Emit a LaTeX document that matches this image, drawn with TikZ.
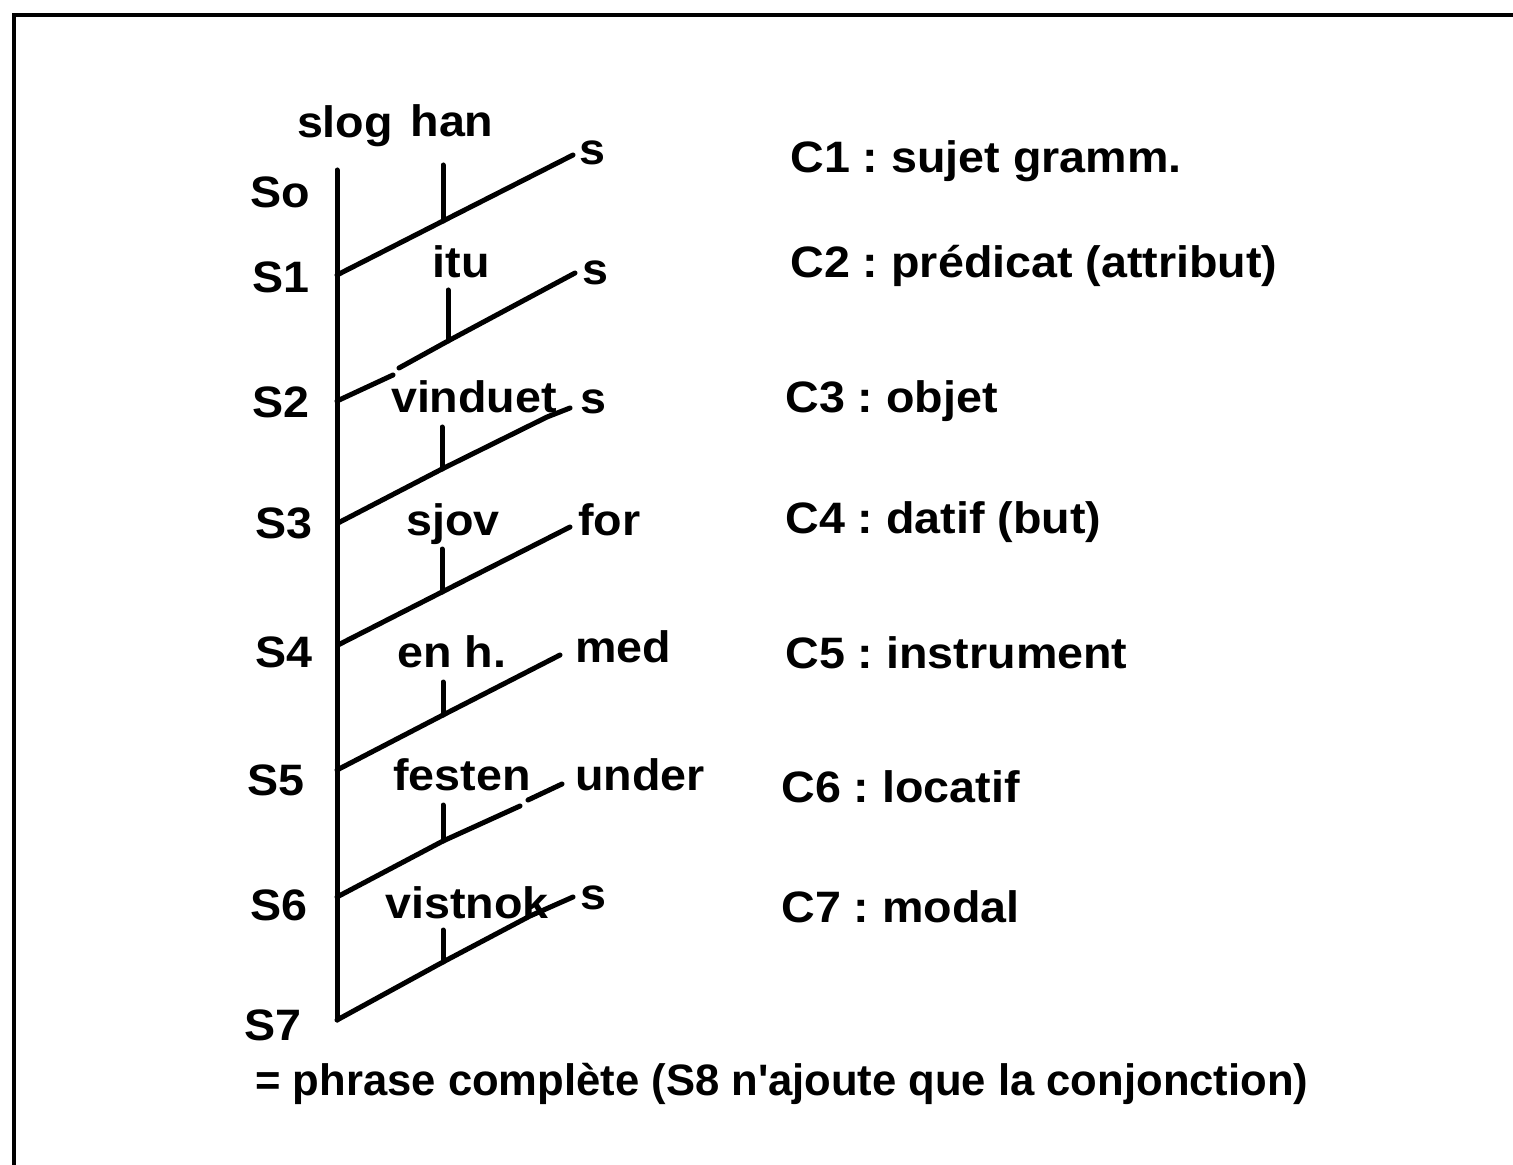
\documentclass[tikz,border=0pt]{standalone}
\usepackage{fontspec}
\setmainfont{Liberation Sans}[FakeStretch=1.06]
\begin{document}
\frenchspacing
\begin{tikzpicture}[x=0.5pt,y=-0.5pt,
  txt/.style={font=\fontsize{22}{26}\selectfont\bfseries, inner sep=0pt, anchor=base west},
  ctxt/.style={txt, anchor=base},
  stxt/.style={txt, anchor=base east},
  branch/.style={line width=2.5pt, line join=round, line cap=round},
  frame/.style={line width=2pt}]
\useasboundingbox (0,0) rectangle (1513,1165);

% outer frame (top and left edges)
\coordinate (fbl) at (14,1165);
\coordinate (ftl) at (14,15);
\coordinate (ftr) at (1513,15);
\draw[frame] (fbl) -- (ftl) -- (ftr);

% spine and junctions
\coordinate (top) at (337,170);
\coordinate (j1) at (337,275);
\coordinate (j2) at (337,401);
\coordinate (j3) at (338,523);
\coordinate (j4) at (338,645);
\coordinate (j5) at (337,770);
\coordinate (j6) at (337,897);
\coordinate (j7) at (337,1020);
\draw[branch] (top) -- (j7);

% branch points: h = tick top, f = tick foot, e = branch end
\coordinate (h1) at (443,165); \coordinate (f1) at (443,221); \coordinate (e1) at (573,155);
\coordinate (h2) at (448,290); \coordinate (f2) at (448,341); \coordinate (e2) at (575,273);
\coordinate (k2a) at (393,375); \coordinate (k2b) at (399,368);
\coordinate (h3) at (442,427); \coordinate (f3) at (442,469); \coordinate (k3) at (547,417); \coordinate (e3) at (570,408);
\coordinate (h4) at (442,549); \coordinate (f4) at (442,592); \coordinate (e4) at (570,527);
\coordinate (h5) at (443,682); \coordinate (f5) at (443,715); \coordinate (e5) at (560,655);
\coordinate (h6) at (443,805); \coordinate (f6) at (443,841); \coordinate (k6) at (520,806); \coordinate (k6b) at (528,800); \coordinate (e6) at (562,784);
\coordinate (h7) at (443,930); \coordinate (f7) at (443,962); \coordinate (k7) at (530,916); \coordinate (e7) at (573,897);

\draw[branch] (j1) -- (f1) -- (e1); \draw[branch] (h1) -- (f1);
\draw[branch] (j2) -- (k2a); \draw[branch] (k2b) -- (f2) -- (e2); \draw[branch] (h2) -- (f2);
\draw[branch] (j3) -- (f3) -- (k3) -- (e3); \draw[branch] (h3) -- (f3);
\draw[branch] (j4) -- (f4) -- (e4); \draw[branch] (h4) -- (f4);
\draw[branch] (j5) -- (f5) -- (e5); \draw[branch] (h5) -- (f5);
\draw[branch] (j6) -- (f6) -- (k6); \draw[branch] (k6b) -- (e6); \draw[branch] (h6) -- (f6);
\draw[branch] (j7) -- (f7) -- (k7) -- (e7); \draw[branch] (h7) -- (f7);

% words at the top
\node[ctxt] (wslog) at (345,138) {slog};
\node[ctxt] (whan) at (452,137) {han};

% stage labels
\node[stxt] (s0) at (310,208) {So};
\node[stxt] (s1) at (310,293) {S1};
\node[stxt] (s2) at (310,418) {S2};
\node[stxt] (s3) at (313,538) {S3};
\node[stxt] (s4) at (313,667) {S4};
\node[stxt] (s5) at (305,795) {S5};
\node[stxt] (s6) at (308,920) {S6};
\node[stxt] (s7) at (302,1040) {S7};

% complements
\node[ctxt] (witu) at (461,278) {itu};
\node[ctxt] (wvind) at (474,413) {vinduet};
\node[ctxt] (wsjov) at (453,535) {sjov};
\node[ctxt] (wenh) at (452,667) {en h.};
\node[ctxt] (wfest) at (462,790) {festen};
\node[ctxt] (wvist) at (467,918) {vistnok};

% markers at the branch ends
\node[txt] (m1) at (579,165) {s};
\node[txt] (m2) at (582,285) {s};
\node[txt] (m3) at (580,414) {s};
\node[txt] (m4) at (578,535) {for};
\node[txt] (m5) at (575,662) {med};
\node[txt] (m6) at (575,790) {under};
\node[txt] (m7) at (580,909) {s};

% legend
\node[txt] (c1) at (790,173) {C1 : sujet gramm.};
\node[txt] (c2) at (790,278) {C2 : prédicat (attribut)};
\node[txt] (c3) at (785,413) {C3 : objet};
\node[txt] (c4) at (785,533) {C4 : datif (but)};
\node[txt] (c5) at (785,668) {C5 : instrument};
\node[txt] (c6) at (781,802) {C6 : locatif};
\node[txt] (c7) at (781,922) {C7 : modal};

\node[txt] (foot) at (255,1095) {\scalebox{0.935}[1]{= phrase complète (S8 n\textquotesingle ajoute que la conjonction)}};
\end{tikzpicture}
\end{document}
